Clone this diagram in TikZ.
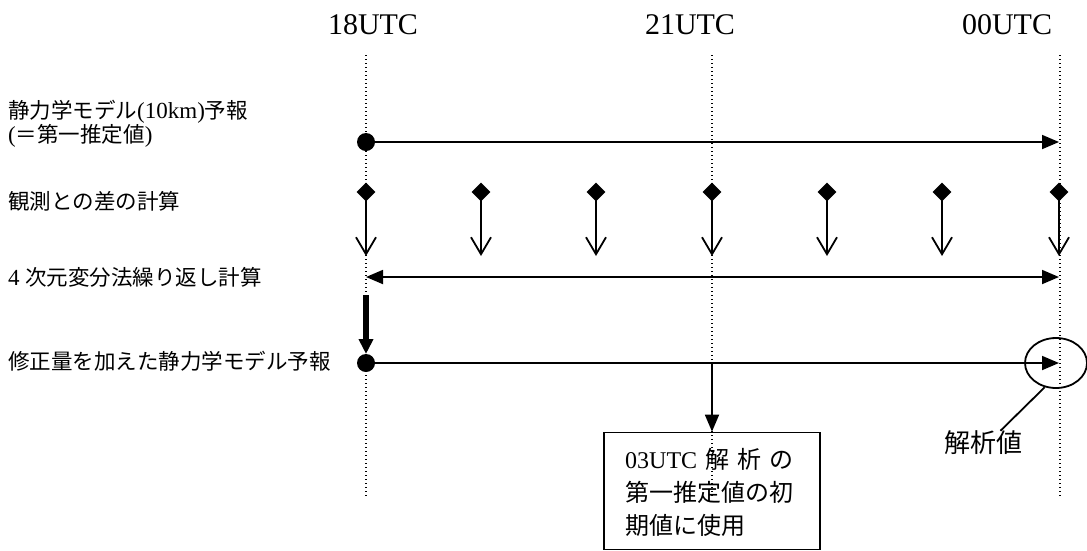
\documentclass[tikz,border=0pt]{standalone}
\usepackage{fontspec}
\setmainfont{Liberation Serif}
\newfontfamily\cjk{Noto Sans CJK JP}
\usetikzlibrary{arrows.meta,shapes.geometric}
\begin{document}
\begin{tikzpicture}[x=1pt,y=-1pt,
  ln/.style={line width=1.8pt},
  fwd/.style={ln,-{Triangle[length=17pt,width=14pt]}},
  both/.style={ln,{Triangle[length=17pt,width=14pt]}-{Triangle[length=17pt,width=14pt]}},
  obs/.style={ln,-{Straight Barb[length=17pt,width=20pt,line width=1.8pt]}},
  guide/.style={line width=1.4pt,dash pattern=on 1.4pt off 2.6pt},
  dotn/.style={circle,fill,inner sep=0pt,minimum size=18pt},
  diam/.style={diamond,fill,inner sep=0pt,minimum size=19pt},
  lab/.style={anchor=west,inner sep=0pt,align=left,font=\fontsize{21.5}{22}\selectfont},
  latin/.style={},
  timelab/.style={inner sep=0pt,font=\fontsize{30}{36}\selectfont}]
\useasboundingbox (0,0) rectangle (1087,550);
% guides
\foreach \x/\i in {366/1,712/2,1060/3}{
  \coordinate (g\i t) at (\x,55);
  \coordinate (g\i b) at (\x,497);
  \draw[guide] (g\i t) -- (g\i b);
}
% time labels
\node[timelab] (t18) at (373,25) {18UTC};
\node[timelab] (t21) at (690,25) {21UTC};
\node[timelab] (t00) at (1007,25) {00UTC};
% row labels
\node[lab] (l1) at (8,124) {{\cjk 静力学モデル}{\fontsize{23}{22}\selectfont(10km)}{\cjk 予報}\\{\fontsize{23}{22}\selectfont(}{\cjk ＝第一推定値}{\fontsize{23}{22}\selectfont)}};
\node[lab] (l2) at (8,201) {{\cjk 観測との差の計算}};
\node[lab] (l3) at (8,277) {{\fontsize{23}{22}\selectfont 4} {\cjk 次元変分法繰り返し計算}};
\node[lab] (l5) at (8,361) {{\cjk 修正量を加えた静力学モデル予報}};
% row 1
\node[dotn] (s1) at (366,142) {};
\coordinate (e1) at (1059,142);
\draw[fwd] (s1) -- (e1);
% row 2
\foreach \x/\i in {366/1,481/2,596/3,712/4,827/5,942/6,1059/7}{
  \node[diam] (d\i) at (\x,192) {};
  \coordinate (o\i) at (\x,256);
  \draw[obs] (d\i.center) -- (o\i);
}
% row 3
\coordinate (a3l) at (366,277);
\coordinate (a3r) at (1059,277);
\draw[both] (a3l) -- (a3r);
% thick arrow
\coordinate (k1) at (366,295);
\coordinate (k2) at (366,354);
\draw[line width=6pt,-{Triangle[length=15pt,width=14pt]}] (k1) -- (k2);
% row 5
\node[dotn] (s5) at (366,363) {};
\coordinate (e5) at (1059,363);
\draw[fwd] (s5) -- (e5);
% box
\node[draw,line width=1.8pt,minimum width=216pt,minimum height=117pt,inner sep=0pt] (box) at (712,491) {};
\coordinate (b5) at (712,363);
\draw[fwd] (b5) -- (box.north);
\node[anchor=west,inner sep=0pt,align=left,font=\fontsize{24}{33}\selectfont] (bt) at (625,492)
  {\makebox[7em][s]{03UTC\hfill{\cjk 解}\hfill{\cjk 析}\hfill{\cjk の}}\\{\cjk 第一推定値の初}\\{\cjk 期値に使用}};
% analysis value
\node[draw,ellipse,line width=1.8pt,minimum width=62pt,minimum height=50pt,inner sep=0pt] (ell) at (1056,363) {};
\node[inner sep=0pt,font=\fontsize{26}{30}\selectfont\cjk] (ana) at (983,443) {解析値};
\draw[ln] (ell.245) -- (ana.35);
\end{tikzpicture}
\end{document}
